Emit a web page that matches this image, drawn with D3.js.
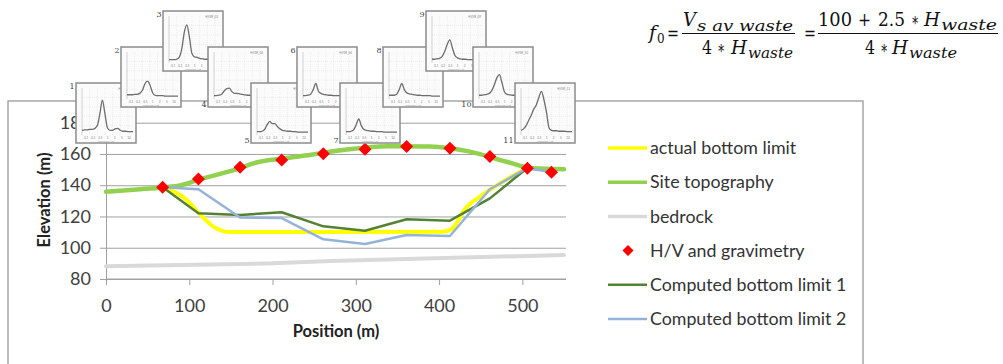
<!DOCTYPE html>
<html>
<head>
<meta charset="utf-8">
<script src="https://cdn.jsdelivr.net/npm/d3@7"></script>
<style>
body { margin: 0; background: #fff; }
svg { display: block; }
</style>
</head>
<body>
<div id="chart"></div>
<script>
// H/V + gravimetry stations (position m, elevation m)
const stationPos  = [68, 111, 161, 211, 261, 311, 361, 413, 461, 506, 535];
const stationElev = [138.7, 144, 151.5, 156.2, 160.2, 163, 164.7, 163.6, 158.3, 150.8, 148.3];

const topoPos  = [0, 41, 68, 90, 111, 161, 177, 211, 233, 285, 337, 389, 437, 481, 513, 550];
const topoElev = [135.8, 137.4, 138.6, 140, 143.5, 151, 154, 157, 158.5, 162.5, 165, 164.8, 161.5, 155, 150.8, 150.2];

const actualPos  = [68, 85, 97, 113, 129, 149, 405, 415, 433, 449, 473, 506];
const actualElev = [138.5, 135, 130.5, 121.3, 113.5, 110, 110.3, 112, 126, 132.7, 141.2, 151];

const bedrockPos  = [0, 200, 270, 550];
const bedrockElev = [88.2, 90, 91.5, 95.4];

const comp1Pos  = [68, 111, 161, 211, 261, 311, 361, 413, 461, 506];
const comp1Elev = [138.7, 122, 121, 122.7, 113.7, 110.9, 118.2, 117.3, 131.6, 151];

const comp2Pos  = [68, 111, 161, 211, 261, 311, 361, 413, 461, 506, 535];
const comp2Elev = [138.7, 137.4, 119.3, 119, 105.4, 102.4, 108.2, 107.5, 137.4, 151, 148.3];

const xTicks = [0, 100, 200, 300, 400, 500];
const yTicks = [80, 100, 120, 140, 160, 180];

const legendLabels = ["actual bottom limit", "Site topography", "bedrock", "H/V and gravimetry",
    "Computed bottom limit 1", "Computed bottom limit 2"];

// small H/V spectra shown above each station (relative amplitude vs. log-frequency fraction)
const hvFreq = [0, 0.05, 0.1, 0.15, 0.2, 0.25, 0.3, 0.35, 0.4, 0.45, 0.5, 0.55, 0.6, 0.65, 0.7, 0.75, 0.8, 0.85, 0.9, 0.95, 1];
const hvCurves = [
    [0.10, 0.11, 0.11, 0.12, 0.12, 0.14, 0.20, 0.45, 0.74, 0.45, 0.15, 0.10, 0.10, 0.13, 0.14, 0.10, 0.08, 0.08, 0.07, 0.07, 0.07],
    [0.09, 0.09, 0.09, 0.10, 0.10, 0.12, 0.18, 0.32, 0.38, 0.30, 0.14, 0.08, 0.07, 0.07, 0.07, 0.06, 0.06, 0.06, 0.06, 0.06, 0.06],
    [0.07, 0.07, 0.07, 0.08, 0.12, 0.30, 0.65, 0.81, 0.55, 0.20, 0.13, 0.12, 0.10, 0.09, 0.08, 0.08, 0.06, 0.06, 0.05, 0.05, 0.05],
    [0.07, 0.07, 0.08, 0.10, 0.17, 0.22, 0.23, 0.16, 0.12, 0.12, 0.11, 0.10, 0.09, 0.08, 0.08, 0.07, 0.06, 0.06, 0.06, 0.06, 0.06],
    [0.07, 0.07, 0.08, 0.12, 0.22, 0.29, 0.24, 0.24, 0.18, 0.13, 0.10, 0.09, 0.08, 0.08, 0.07, 0.07, 0.06, 0.06, 0.06, 0.06, 0.06],
    [0.07, 0.07, 0.08, 0.10, 0.20, 0.33, 0.17, 0.12, 0.10, 0.09, 0.08, 0.08, 0.07, 0.07, 0.07, 0.07, 0.06, 0.06, 0.06, 0.07, 0.07],
    [0.07, 0.07, 0.08, 0.11, 0.22, 0.34, 0.20, 0.12, 0.10, 0.09, 0.08, 0.08, 0.07, 0.07, 0.07, 0.06, 0.06, 0.06, 0.06, 0.06, 0.06],
    [0.08, 0.08, 0.08, 0.10, 0.20, 0.33, 0.20, 0.13, 0.11, 0.10, 0.09, 0.08, 0.08, 0.07, 0.07, 0.07, 0.07, 0.06, 0.06, 0.06, 0.06],
    [0.08, 0.08, 0.09, 0.10, 0.14, 0.25, 0.40, 0.49, 0.32, 0.16, 0.11, 0.09, 0.08, 0.08, 0.07, 0.07, 0.07, 0.06, 0.06, 0.06, 0.06],
    [0.08, 0.08, 0.09, 0.10, 0.12, 0.18, 0.30, 0.45, 0.52, 0.35, 0.15, 0.10, 0.09, 0.08, 0.08, 0.07, 0.07, 0.07, 0.06, 0.06, 0.06],
    [0.10, 0.13, 0.20, 0.31, 0.42, 0.55, 0.64, 0.80, 0.93, 0.75, 0.48, 0.15, 0.10, 0.09, 0.09, 0.08, 0.08, 0.08, 0.07, 0.07, 0.07]
];
const hvFreqLabels = ["0.1", "0.2", "0.5", "1", "2", "5", "10"];

// where the little H/V plots sit (layout only)
const insetLayout = [
    { x: 76, y: 83, label: "top" }, { x: 121, y: 47, label: "top" }, { x: 163, y: 11, label: "top" },
    { x: 208, y: 47, label: "bottom" }, { x: 251, y: 83, label: "bottom" }, { x: 297, y: 47, label: "top" },
    { x: 340, y: 83, label: "bottom" }, { x: 383, y: 47, label: "top" }, { x: 426, y: 11, label: "top" },
    { x: 473, y: 47, label: "bottom" }, { x: 515, y: 83, label: "bottom" }
];

const W = 1003, H = 364;
const plot = { left: 106, right: 564, top: 122.7, bottom: 279 };
const font = "Lato, 'Open Sans', sans-serif";

const svg = d3.select("#chart").append("svg").attr("width", W).attr("height", H);

// outer frame
svg.append("rect")
    .attr("x", 8).attr("y", 101).attr("width", 855).attr("height", 320)
    .attr("fill", "none").attr("stroke", "#a6a6a6").attr("stroke-width", 1.5);

const x = d3.scaleLinear().domain([0, 550]).range([plot.left, plot.right]);
const y = d3.scaleLinear().domain([80, 180]).range([plot.bottom, plot.top]);

// gridlines
svg.append("g")
    .attr("transform", `translate(${plot.left},0)`)
    .call(d3.axisLeft(y).tickValues(yTicks).tickSize(-(plot.right + 2 - plot.left)).tickFormat(""))
    .call(g => g.select(".domain").remove())
    .call(g => g.selectAll("line").attr("stroke", "#a0a0a0").attr("stroke-width", 1));

// y axis
const yAxis = svg.append("g")
    .attr("transform", `translate(${plot.left},0)`)
    .call(d3.axisLeft(y).tickValues(yTicks).tickSize(6).tickPadding(9));
yAxis.select(".domain").attr("stroke", "#a0a0a0");
yAxis.selectAll("line").attr("stroke", "#a0a0a0");
yAxis.selectAll("text").attr("font-family", font).attr("font-size", 18).attr("fill", "#404040");

// x axis
const xAxis = svg.append("g")
    .attr("transform", `translate(0,${plot.bottom})`)
    .call(d3.axisBottom(x).tickValues(xTicks).tickSize(6).tickPadding(14));
xAxis.select(".domain").attr("stroke", "#a0a0a0").attr("d", `M${plot.left},0H${plot.right + 2}`);
xAxis.selectAll("line").attr("stroke", "#a0a0a0");
xAxis.selectAll("text").attr("font-family", font).attr("font-size", 18).attr("fill", "#404040");

// axis titles
svg.append("text")
    .attr("transform", "translate(50,200) rotate(-90)")
    .attr("text-anchor", "middle")
    .attr("font-family", font).attr("font-size", 16.5).attr("font-weight", "bold").attr("fill", "#222")
    .text("Elevation (m)");
svg.append("text")
    .attr("x", 336).attr("y", 337)
    .attr("text-anchor", "middle")
    .attr("font-family", font).attr("font-size", 16.5).attr("font-weight", "bold").attr("fill", "#222")
    .text("Position (m)");

const zip = (xs, ys) => xs.map((v, i) => [v, ys[i]]);
const line = d3.line().x(d => x(d[0])).y(d => y(d[1]));
const smooth = d3.line().x(d => x(d[0])).y(d => y(d[1])).curve(d3.curveMonotoneX);

const series = [
    { data: zip(actualPos, actualElev), color: "#ffff00", width: 4, gen: smooth },
    { data: zip(topoPos, topoElev), color: "#92d050", width: 4.5, gen: smooth },
    { data: zip(bedrockPos, bedrockElev), color: "#d9d9d9", width: 4, gen: line },
    { data: zip(comp1Pos, comp1Elev), color: "#548235", width: 2.5, gen: line },
    { data: zip(comp2Pos, comp2Elev), color: "#95b3d7", width: 2.5, gen: line }
];

svg.append("g").selectAll("path")
    .data(series)
    .enter().append("path")
    .attr("d", d => d.gen(d.data))
    .attr("fill", "none")
    .attr("stroke", d => d.color)
    .attr("stroke-width", d => d.width)
    .attr("stroke-linejoin", "round")
    .attr("stroke-linecap", "round");

const diamond = r => `M0,${-r}L${r},0L0,${r}L${-r},0Z`;
svg.append("g").selectAll("path")
    .data(zip(stationPos, stationElev))
    .enter().append("path")
    .attr("transform", d => `translate(${x(d[0])},${y(d[1])})`)
    .attr("d", diamond(6.5))
    .attr("fill", "#ff0000");

// legend
const legendColors = ["#ffff00", "#92d050", "#d9d9d9", "#ff0000", "#548235", "#95b3d7"];
const legend = svg.append("g");
legendLabels.forEach((label, i) => {
    const ly = 148 + i * 34.2;
    if (i === 3) {
        legend.append("path")
            .attr("transform", `translate(628,${ly})`)
            .attr("d", diamond(5.5))
            .attr("fill", legendColors[i]);
    } else {
        legend.append("line")
            .attr("x1", 608).attr("x2", 647).attr("y1", ly).attr("y2", ly)
            .attr("stroke", legendColors[i]).attr("stroke-width", i >= 4 ? 2.5 : 3.5);
    }
    legend.append("text")
        .attr("x", 650).attr("y", ly).attr("dy", "0.35em")
        .attr("font-family", font).attr("font-size", 17.8).attr("fill", "#333")
        .text(label);
});

// H/V insets
const insetW = 60, insetH = 60;
const ix = d3.scaleLinear().domain([0, 1]).range([6, 57]);
const iy = d3.scaleLinear().domain([0, 1]).range([52, 5]);
const hvLine = d3.line().x(d => ix(d[0])).y(d => iy(d[1])).curve(d3.curveMonotoneX);

insetLayout.forEach((box, i) => {
    const g = svg.append("g").attr("transform", `translate(${box.x},${box.y})`);
    g.append("rect")
        .attr("width", insetW).attr("height", insetH)
        .attr("fill", "#fbfbfb").attr("stroke", "#8c8c8c").attr("stroke-width", 1.5);
    // faint grid
    [0.2, 0.4, 0.6, 0.8].forEach(v => {
        g.append("line").attr("x1", ix(0)).attr("x2", ix(1)).attr("y1", iy(v)).attr("y2", iy(v))
            .attr("stroke", "#e4e4e4").attr("stroke-width", 0.6).attr("stroke-dasharray", "1,1");
    });
    [0.15, 0.3, 0.45, 0.6, 0.75, 0.9].forEach(v => {
        g.append("line").attr("x1", ix(v)).attr("x2", ix(v)).attr("y1", iy(1)).attr("y2", iy(0))
            .attr("stroke", "#e4e4e4").attr("stroke-width", 0.6).attr("stroke-dasharray", "1,1");
    });
    g.append("line").attr("x1", ix(0)).attr("x2", ix(0)).attr("y1", iy(1)).attr("y2", iy(0))
        .attr("stroke", "#b5b5b5").attr("stroke-width", 0.6);
    g.append("path")
        .attr("d", hvLine(hvFreq.map((f, k) => [f, hvCurves[i][k]])))
        .attr("fill", "none").attr("stroke", "#6e6e6e").attr("stroke-width", 1.3);
    g.append("text")
        .attr("x", 55).attr("y", 7).attr("text-anchor", "end")
        .attr("font-family", font).attr("font-size", 3).attr("fill", "#888")
        .text(`HVSR_${String(i + 1).padStart(2, "0")}`);
    hvFreqLabels.forEach((t, k) => {
        g.append("text")
            .attr("x", ix(0.08 + k * 0.14)).attr("y", 56).attr("text-anchor", "middle")
            .attr("font-family", font).attr("font-size", 3).attr("fill", "#888")
            .text(t);
    });
    g.append("text")
        .attr("x", 30).attr("y", 59).attr("text-anchor", "middle")
        .attr("font-family", font).attr("font-size", 2.5).attr("fill", "#999")
        .text("Frequency (Hz)");
    g.append("text")
        .attr("x", -1.5).attr("y", box.label === "top" ? 6 : 60)
        .attr("text-anchor", "end")
        .attr("font-family", "'DejaVu Serif', serif").attr("font-size", 8).attr("fill", "#444")
        .text(i + 1);
});

// formula f0 = Vs av waste / (4 * H waste) = (100 + 2.5 * H waste) / (4 * H waste)
const serif = "'DejaVu Serif', 'Liberation Serif', serif";
const fg = svg.append("g").attr("font-family", serif).attr("fill", "#111");
const piece = (txt, px, py, size, italic, len) => {
    const t = fg.append("text").attr("x", px).attr("y", py).attr("font-size", size)
        .attr("font-style", italic ? "italic" : "normal").text(txt);
    if (len) t.attr("textLength", len).attr("lengthAdjust", "spacingAndGlyphs");
    return t;
};
const bar = (x1, x2) => fg.append("line").attr("x1", x1).attr("x2", x2)
    .attr("y1", 33.5).attr("y2", 33.5).attr("stroke", "#111").attr("stroke-width", 1);

piece("f", 649, 39, 19, true);
piece("0", 657, 43, 12, false);
piece("=", 667, 40, 18, false, 12);
piece("V", 683, 26, 19, true, 13);
piece("s av waste", 697, 31, 15, true, 96);
bar(682, 795);
piece("4", 702, 54, 18, false, 10);
piece("∗", 717, 54, 18, false, 8);
piece("H", 731, 54, 18, true, 16);
piece("waste", 748, 58, 15, true, 45);
piece("=", 804, 40, 18, false, 12);
piece("100", 818, 26, 18, false, 34);
piece("+", 858, 26, 18, false, 13);
piece("2.5", 878, 26, 18, false, 27);
piece("∗", 911, 26, 18, false, 8);
piece("H", 924, 26, 18, true, 16);
piece("waste", 941, 30, 15, true, 56);
bar(818, 998);
piece("4", 865, 54, 18, false, 10);
piece("∗", 880, 54, 18, false, 8);
piece("H", 892, 54, 18, true, 16);
piece("waste", 909, 58, 15, true, 48);
</script>
</body>
</html>
